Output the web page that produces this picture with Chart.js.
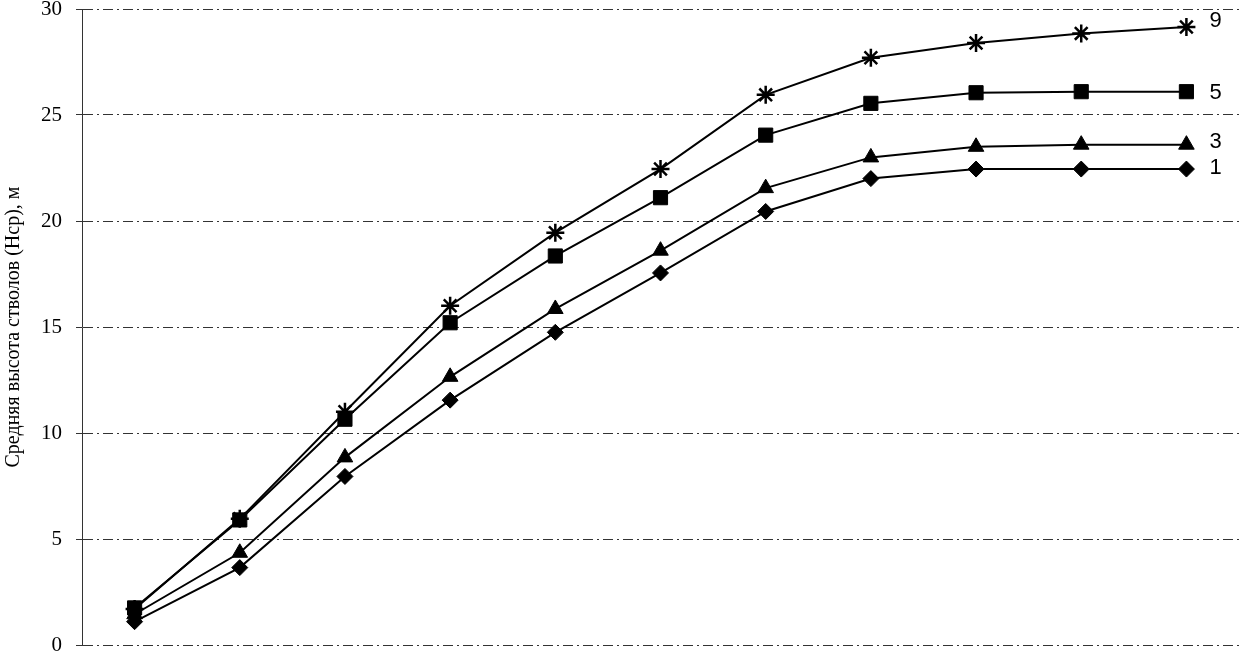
<!DOCTYPE html>
<html>
<head>
<meta charset="utf-8">
<script src="https://cdn.jsdelivr.net/npm/chart.js@4/dist/chart.umd.min.js"></script>
<style>
html,body{margin:0;padding:0;background:#fff;}
#wrap{width:1241px;height:655px;position:relative;}
</style>
</head>
<body>
<div id="wrap"><canvas id="c" width="1241" height="655"></canvas></div>
<script>
const categories = ['1','2','3','4','5','6','7','8','9','10','11'];
const yTicks = [0, 5, 10, 15, 20, 25, 30];
const seriesNames = ['9', '5', '3', '1'];
const series9 = [1.7, 5.95, 11.0, 16.0, 19.45, 22.45, 25.95, 27.7, 28.4, 28.85, 29.15];
const series5 = [1.75, 5.9, 10.65, 15.2, 18.35, 21.1, 24.05, 25.55, 26.05, 26.1, 26.1];
const series3 = [1.45, 4.35, 8.85, 12.65, 15.85, 18.6, 21.55, 23.0, 23.5, 23.6, 23.6];
const series1 = [1.1, 3.65, 7.95, 11.55, 14.75, 17.55, 20.45, 22.0, 22.45, 22.45, 22.45];

const labelOffsets = {'9': -6, '5': 1, '3': -3, '1': -1};

const endLabels = {
  id: 'endLabels',
  afterDatasetsDraw(chart) {
    const ctx = chart.ctx;
    ctx.save();
    ctx.fillStyle = '#000';
    ctx.font = '22px "Liberation Sans", Arial, sans-serif';
    ctx.textAlign = 'left';
    ctx.textBaseline = 'middle';
    chart.data.datasets.forEach((ds, i) => {
      const meta = chart.getDatasetMeta(i);
      const pt = meta.data[meta.data.length - 1];
      ctx.fillText(ds.label, pt.x + 23, pt.y + (labelOffsets[ds.label] || 0));
    });
    ctx.restore();
  }
};

const common = {
  borderColor: '#000',
  backgroundColor: '#000',
  pointBackgroundColor: '#000',
  pointBorderColor: '#000',
  borderWidth: 2,
  fill: false,
  tension: 0,
  clip: false
};

new Chart(document.getElementById('c'), {
  type: 'line',
  data: {
    labels: categories,
    datasets: [
      Object.assign({label: seriesNames[0], data: series9, pointStyle: 'star', pointRadius: 9, pointBorderWidth: 2.5}, common),
      Object.assign({label: seriesNames[1], data: series5, pointStyle: 'rect', pointRadius: 10, pointBorderWidth: 1}, common),
      Object.assign({label: seriesNames[2], data: series3, pointStyle: 'triangle', pointRadius: 9, pointBorderWidth: 1}, common),
      Object.assign({label: seriesNames[3], data: series1, pointStyle: 'rectRot', pointRadius: 8, pointBorderWidth: 1}, common)
    ]
  },
  options: {
    responsive: false,
    animation: false,
    layout: {autoPadding: false, padding: {top: 9, bottom: 10, left: 0, right: 2}},
    plugins: {legend: {display: false}, tooltip: {enabled: false}},
    scales: {
      x: {type: 'category', display: false, offset: true},
      y: {
        min: 0, max: 30,
        afterBuildTicks(scale) { scale.ticks = yTicks.map(v => ({value: v})); },
        afterFit(scale) { scale.width = 82; scale.paddingTop = 0; scale.paddingBottom = 0; },
        ticks: {
          color: '#000',
          padding: 14,
          font: {family: '"Liberation Serif", "Times New Roman", serif', size: 21}
        },
        grid: {color: '#333', lineWidth: 1, tickLength: 6, drawTicks: true},
        border: {display: true, color: '#333', width: 1, dash: [10, 4, 2, 4]},
        title: {
          display: true,
          text: 'Средняя высота стволов (Нср), м',
          color: '#000',
          padding: {top: 2, bottom: 0},
          font: {family: '"Liberation Serif", "Times New Roman", serif', size: 20}
        }
      }
    }
  },
  plugins: [endLabels]
});
</script>
</body>
</html>
